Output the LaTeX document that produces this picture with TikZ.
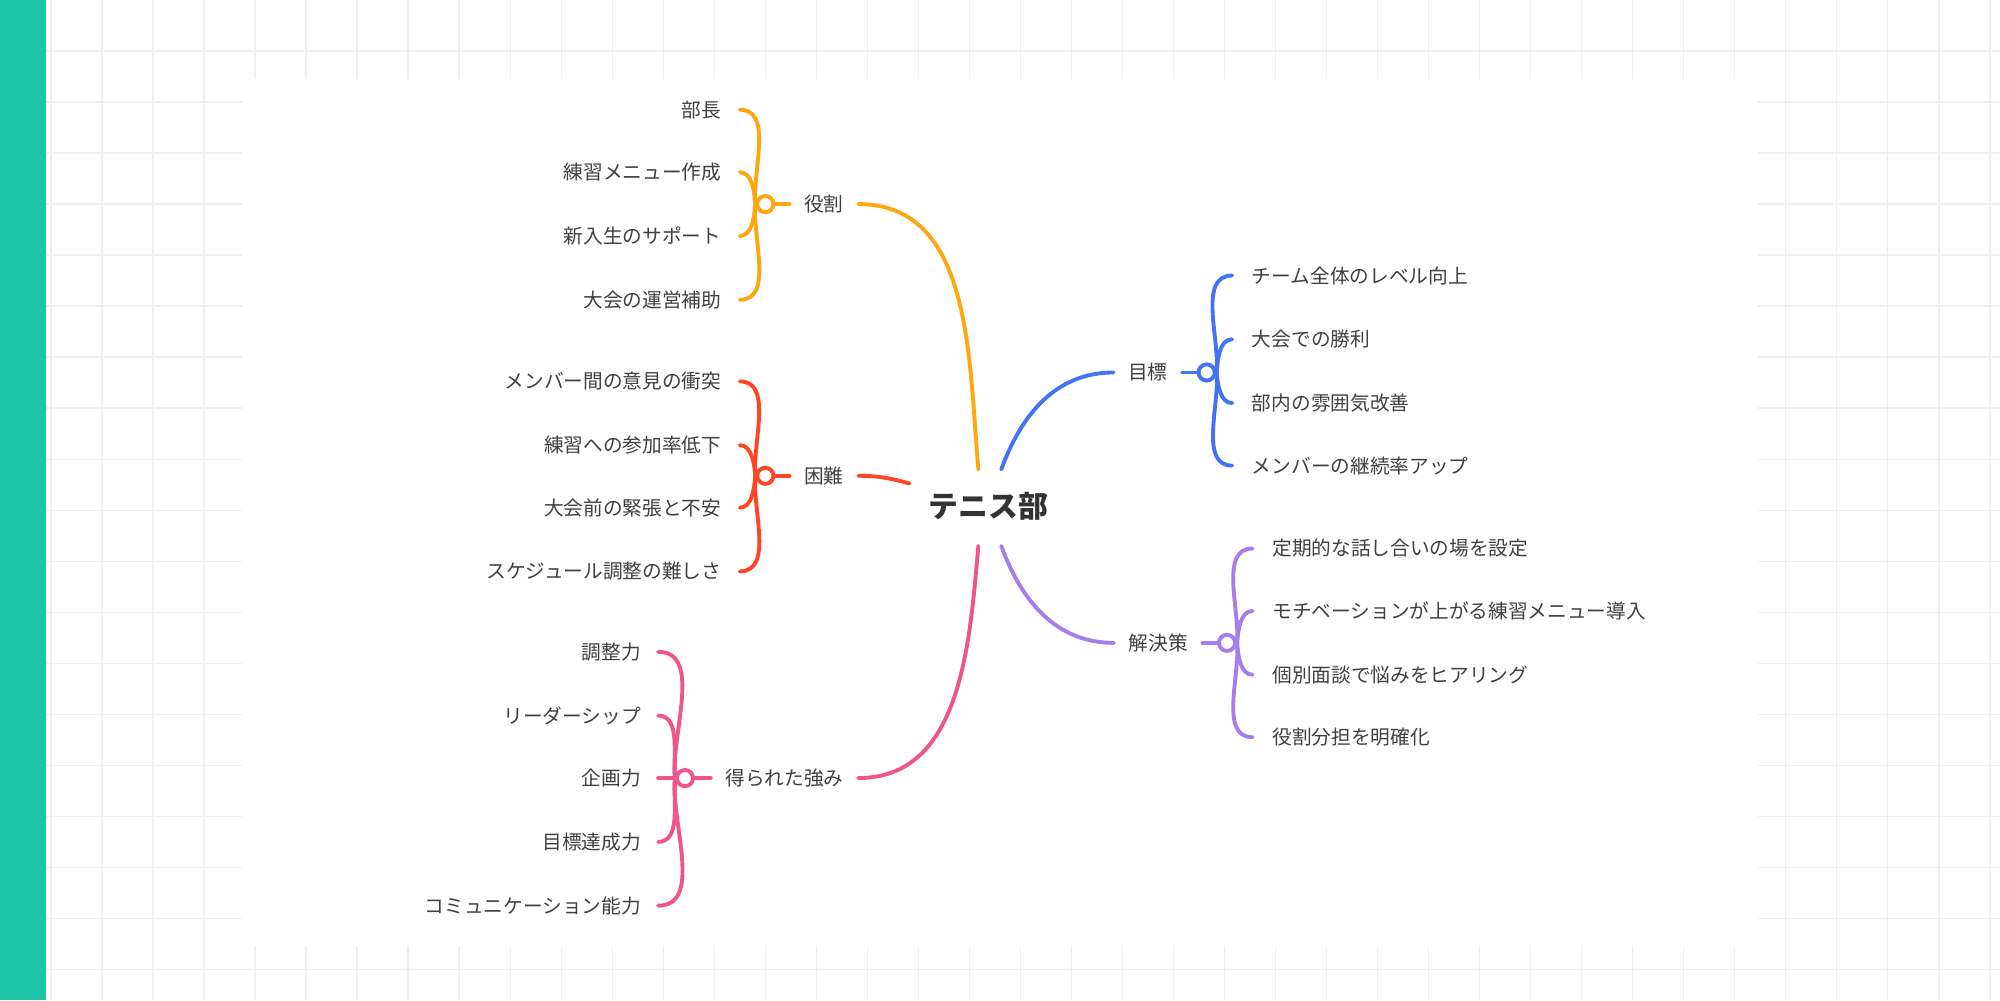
\documentclass[tikz,border=0pt]{standalone}
\usepackage{fontspec}
\setmainfont{Noto Sans CJK JP}
\begin{document}
\begin{tikzpicture}[x=0.012755cm,y=-0.012755cm,
  br/.style={line width=1.1pt,line cap=round},
  knot/.style={circle,draw,fill=white,line width=1.1pt,minimum size=4.6pt,inner sep=0pt},
  lab/.style={font=\fontsize{5.6}{7}\selectfont,text=black!75,inner sep=4pt},
  leafL/.style={lab,anchor=east,inner sep=0pt},
  leafR/.style={lab,anchor=west,inner sep=0pt}]
\definecolor{cOr}{HTML}{FFA70F}
\definecolor{cRe}{HTML}{FF4524}
\definecolor{cPk}{HTML}{F0548C}
\definecolor{cBl}{HTML}{4273F5}
\definecolor{cPu}{HTML}{A47EEE}
\definecolor{cTe}{HTML}{1DC4A6}
\useasboundingbox (0,0) rectangle (1568,784);
\fill[white] (0,0) rectangle (1568,784);
\foreach \x in {40,80,...,1560} \draw[black!6,line width=0.4pt] (\x,0) -- (\x,784);
\foreach \y in {40,80,...,780} \draw[black!6,line width=0.4pt] (0,\y) -- (1568,\y);
\fill[white] (190,62) rectangle (1378,742);
\fill[cTe] (0,0) rectangle (36,784);

\node[font=\fontsize{8.5}{10}\selectfont\bfseries,text=black!80] (root) at (775,397) {テニス部};

% 役割
\node[lab] (r1) at (646,160) {役割};
\node[knot,draw=cOr] (k1) at (600,160) {};
\draw[br,cOr] (k1) -- (r1);
\draw[br,cOr] (r1.east) to[out=0,in=95] (767,368) coordinate (e1);
\foreach \t/\y [count=\i] in {部長/86,練習メニュー作成/135,新入生のサポート/185,大会の運営補助/235}{
  \node[leafL] (r1l\i) at (566,\y) {\t};
  \coordinate (r1c\i) at (580,\y);
  \pgfmathsetmacro\o{\y<160?95:265}
  \draw[br,cOr] (k1.west) to[out=\o,in=0,looseness=0.9] (r1c\i);
}
% 困難
\node[lab] (r2) at (646,373) {困難};
\node[knot,draw=cRe] (k2) at (600,373) {};
\draw[br,cRe] (k2) -- (r2);
\draw[br,cRe] (r2.east) to[out=0,in=165] (713,379) coordinate (e2);
\foreach \t/\y [count=\i] in {メンバー間の意見の衝突/299,練習への参加率低下/349,大会前の緊張と不安/398,スケジュール調整の難しさ/448}{
  \node[leafL] (r2l\i) at (566,\y) {\t};
  \coordinate (r2c\i) at (580,\y);
  \pgfmathsetmacro\o{\y<373?95:265}
  \draw[br,cRe] (k2.west) to[out=\o,in=0,looseness=0.9] (r2c\i);
}
% 得られた強み
\node[lab] (r3) at (615,610) {得られた強み};
\node[knot,draw=cPk] (k3) at (537,610) {};
\draw[br,cPk] (k3) -- (r3);
\draw[br,cPk] (r3.east) to[out=0,in=265] (767,428) coordinate (e3);
\foreach \t/\y [count=\i] in {調整力/511,リーダーシップ/561,企画力/610,目標達成力/660,コミュニケーション能力/710}{
  \node[leafL] (r3l\i) at (503,\y) {\t};
  \coordinate (r3c\i) at (516,\y);
  \pgfmathsetmacro\o{\y<605?95:(\y>615?265:180)}
  \draw[br,cPk] (k3.west) to[out=\o,in=0,looseness=0.9] (r3c\i);
}
% 目標
\node[lab] (r4) at (900,292) {目標};
\node[knot,draw=cBl] (k4) at (946,292) {};
\draw[br,cBl] (r4) -- (k4);
\draw[br,cBl] (785,368) coordinate (e4) to[out=70,in=180] (r4.west);
\foreach \t/\y [count=\i] in {チーム全体のレベル向上/216,大会での勝利/266,部内の雰囲気改善/316,メンバーの継続率アップ/365}{
  \node[leafR] (r4l\i) at (981,\y) {\t};
  \coordinate (r4c\i) at (966,\y);
  \pgfmathsetmacro\o{\y<292?85:275}
  \draw[br,cBl] (k4.east) to[out=\o,in=180,looseness=0.9] (r4c\i);
}
% 解決策
\node[lab] (r5) at (908,504) {解決策};
\node[knot,draw=cPu] (k5) at (962,504) {};
\draw[br,cPu] (r5) -- (k5);
\draw[br,cPu] (785,428) coordinate (e5) to[out=-70,in=180] (r5.west);
\foreach \t/\y [count=\i] in {定期的な話し合いの場を設定/430,モチベーションが上がる練習メニュー導入/479,個別面談で悩みをヒアリング/529,役割分担を明確化/578}{
  \node[leafR] (r5l\i) at (997,\y) {\t};
  \coordinate (r5c\i) at (982,\y);
  \pgfmathsetmacro\o{\y<504?85:275}
  \draw[br,cPu] (k5.east) to[out=\o,in=180,looseness=0.9] (r5c\i);
}
\end{tikzpicture}
\end{document}
